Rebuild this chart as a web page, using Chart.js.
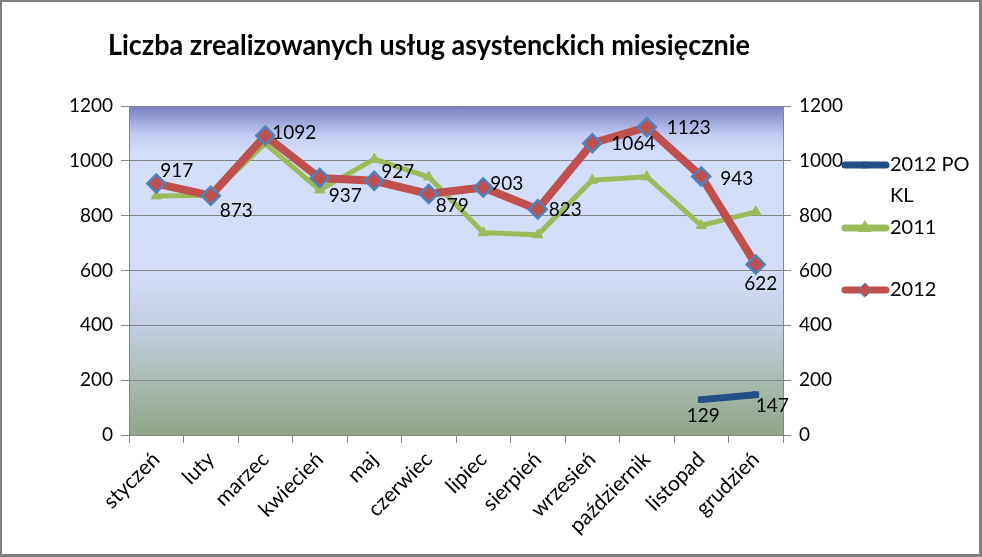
<!DOCTYPE html>
<html>
<head>
<meta charset="utf-8">
<script src="https://cdn.jsdelivr.net/npm/chart.js@4/dist/chart.umd.min.js"></script>
<style>
  html, body { margin: 0; padding: 0; background: #fff; }
  #wrap { width: 982px; height: 557px; }
</style>
</head>
<body>
<div id="wrap"><canvas id="chart"></canvas></div>
<script>
const months = ["styczeń", "luty", "marzec", "kwiecień", "maj", "czerwiec", "lipiec", "sierpień", "wrzesień", "październik", "listopad", "grudzień"];
const values2012poKL = [null, null, null, null, null, null, null, null, null, null, 129, 147];
const values2011 = [872, 874, 1063, 894, 1006, 941, 738, 730, 929, 942, 764, 814];
const values2012 = [917, 873, 1092, 937, 927, 879, 903, 823, 1064, 1123, 943, 622];
const yTicks = [0, 200, 400, 600, 800, 1000, 1200];

const chartTitle = "Liczba zrealizowanych usług asystenckich miesięcznie";
const FONT = "Lato, 'Open Sans', sans-serif";

// where each value label sits relative to its point [dx, dy, align]
const labelPos2012 = [[4, -13, "left"], [9, 15, "left"], [7, -3, "left"], [9, 18, "left"], [7, -9, "left"], [7, 12, "left"],
    [7, -4, "left"], [11, 1, "left"], [19, 1, "left"], [20, 1, "left"], [19, 2, "left"], [5, 19, "center"]];
const labelPosPoKL = [null, null, null, null, null, null, null, null, null, null, [2, 16, "center"], [0, 11, "left"]];

// gradient in plot area + outer frame + title
const backdrop = {
    id: "backdrop",
    beforeDraw(chart) {
        const {ctx, chartArea: a} = chart;
        const g = ctx.createLinearGradient(0, a.top, 0, a.bottom);
        g.addColorStop(0, "#787ebf");
        g.addColorStop(0.09, "#c3cdf3");
        g.addColorStop(0.14, "#d3defa");
        g.addColorStop(0.5, "#d4defa");
        g.addColorStop(0.68, "#c1cde0");
        g.addColorStop(0.83, "#a9bbb2");
        g.addColorStop(1, "#8fa688");
        ctx.save();
        ctx.fillStyle = g;
        ctx.fillRect(a.left, a.top, a.right - a.left, a.bottom - a.top);
        ctx.restore();
    },
    afterDraw(chart) {
        const ctx = chart.ctx;
        ctx.save();
        ctx.fillStyle = "#7f7f7f";
        ctx.fillRect(0, 0, 982, 2);
        ctx.fillRect(0, 0, 2, 557);
        ctx.fillRect(979, 0, 3, 557);
        ctx.fillRect(0, 554, 982, 3);

        ctx.fillStyle = "#000";
        ctx.font = "bold 28px " + FONT;
        ctx.textBaseline = "alphabetic";
        ctx.textAlign = "left";
        ctx.fillText(chartTitle, 108, 55, 642);
        ctx.restore();
    }
};

// value labels
const valueLabels = {
    id: "valueLabels",
    afterDatasetsDraw(chart) {
        const ctx = chart.ctx;
        ctx.save();
        ctx.font = "19px " + FONT;
        ctx.fillStyle = "#000";
        ctx.textBaseline = "middle";
        const sets = [[0, labelPosPoKL], [2, labelPos2012]];
        sets.forEach(([idx, pos]) => {
            const meta = chart.getDatasetMeta(idx);
            const data = chart.data.datasets[idx].data;
            meta.data.forEach((pt, i) => {
                if (data[i] == null || !pos[i]) return;
                ctx.textAlign = pos[i][2];
                ctx.fillText(String(data[i]), pt.x + pos[i][0], pt.y + pos[i][1]);
            });
        });
        ctx.restore();
    }
};

// legend on the right
const sideLegend = {
    id: "sideLegend",
    afterDraw(chart) {
        const ctx = chart.ctx;
        const items = [
            {ds: 0, y: 165, r: 4, lines: ["2012 PO", "KL"]},
            {ds: 1, y: 228, r: 7, lines: ["2011"]},
            {ds: 2, y: 290, r: 7, lines: ["2012"]}
        ];
        ctx.save();
        items.forEach(it => {
            const ds = chart.data.datasets[it.ds];
            ctx.strokeStyle = ds.borderColor;
            ctx.lineWidth = 7;
            ctx.lineCap = "round";
            ctx.beginPath();
            ctx.moveTo(845, it.y);
            ctx.lineTo(886, it.y);
            ctx.stroke();
            ctx.fillStyle = ds.pointBackgroundColor;
            ctx.strokeStyle = ds.pointBorderColor;
            ctx.lineWidth = 1;
            Chart.helpers.drawPoint(ctx, {
                pointStyle: ds.pointStyle,
                radius: it.r,
                borderWidth: 1
            }, 865, it.y);
            ctx.fillStyle = "#000";
            ctx.font = "20px " + FONT;
            ctx.textAlign = "left";
            ctx.textBaseline = "middle";
            it.lines.forEach((t, k) => ctx.fillText(t, 890, it.y + k * 31));
        });
        ctx.restore();
    }
};

const tickFont = {family: FONT, size: 19};

const ctx = document.getElementById("chart");
new Chart(ctx, {
    type: "line",
    data: {
        labels: months,
        datasets: [
            {
                label: "2012 PO KL",
                data: values2012poKL,
                borderColor: "#234e86",
                backgroundColor: "#234e86",
                borderWidth: 7,
                pointStyle: "rect",
                pointRadius: 4,
                pointBackgroundColor: "#234e86",
                pointBorderColor: "#234e86",
                pointBorderWidth: 1,
                tension: 0,
                order: 0
            },
            {
                label: "2011",
                data: values2011,
                borderColor: "#9bbb59",
                backgroundColor: "#9bbb59",
                borderWidth: 5,
                pointStyle: "triangle",
                pointRadius: 6,
                pointBackgroundColor: "#9bbb59",
                pointBorderColor: "#9bbb59",
                pointBorderWidth: 1,
                tension: 0,
                order: 2
            },
            {
                label: "2012",
                data: values2012,
                borderColor: "#c0504d",
                backgroundColor: "#c0504d",
                borderWidth: 8,
                pointStyle: "rectRot",
                pointRadius: 9,
                pointBackgroundColor: "#c0504d",
                pointBorderColor: "#4f81bd",
                pointBorderWidth: 2.5,
                tension: 0,
                order: 1
            }
        ]
    },
    options: {
        responsive: true,
        maintainAspectRatio: false,
        animation: false,
        events: [],
        layout: {
            padding: {top: 106, right: 139, bottom: 0, left: 0}
        },
        plugins: {
            legend: {display: false},
            title: {display: false},
            tooltip: {enabled: false}
        },
        scales: {
            x: {
                type: "category",
                offset: true,
                grid: {
                    offset: true,
                    drawOnChartArea: false,
                    drawTicks: true,
                    tickLength: 8,
                    color: "#868686"
                },
                border: {display: true, color: "#868686", width: 1},
                ticks: {
                    color: "#000",
                    font: {family: FONT, size: 21},
                    maxRotation: 45,
                    minRotation: 45,
                    autoSkip: false,
                    padding: 4
                },
                afterFit(scale) { scale.height = 122; }
            },
            y: {
                position: "left",
                min: 0,
                max: 1200,
                afterBuildTicks(scale) { scale.ticks = yTicks.map(v => ({value: v})); },
                grid: {
                    color: "#868686",
                    lineWidth: 1,
                    tickLength: 8
                },
                border: {display: true, color: "#868686", width: 1},
                ticks: {
                    color: "#000",
                    font: tickFont,
                    padding: 8,
                    callback: v => String(v)
                },
                afterFit(scale) { scale.width = 129; }
            },
            y2: {
                position: "right",
                min: 0,
                max: 1200,
                afterBuildTicks(scale) { scale.ticks = yTicks.map(v => ({value: v})); },
                grid: {
                    drawOnChartArea: false,
                    color: "#868686",
                    tickLength: 8
                },
                border: {display: true, color: "#868686", width: 1},
                ticks: {
                    color: "#000",
                    font: tickFont,
                    padding: 8,
                    callback: v => String(v)
                },
                afterFit(scale) { scale.width = 60; }
            }
        }
    },
    plugins: [backdrop, valueLabels, sideLegend]
});
</script>
</body>
</html>
